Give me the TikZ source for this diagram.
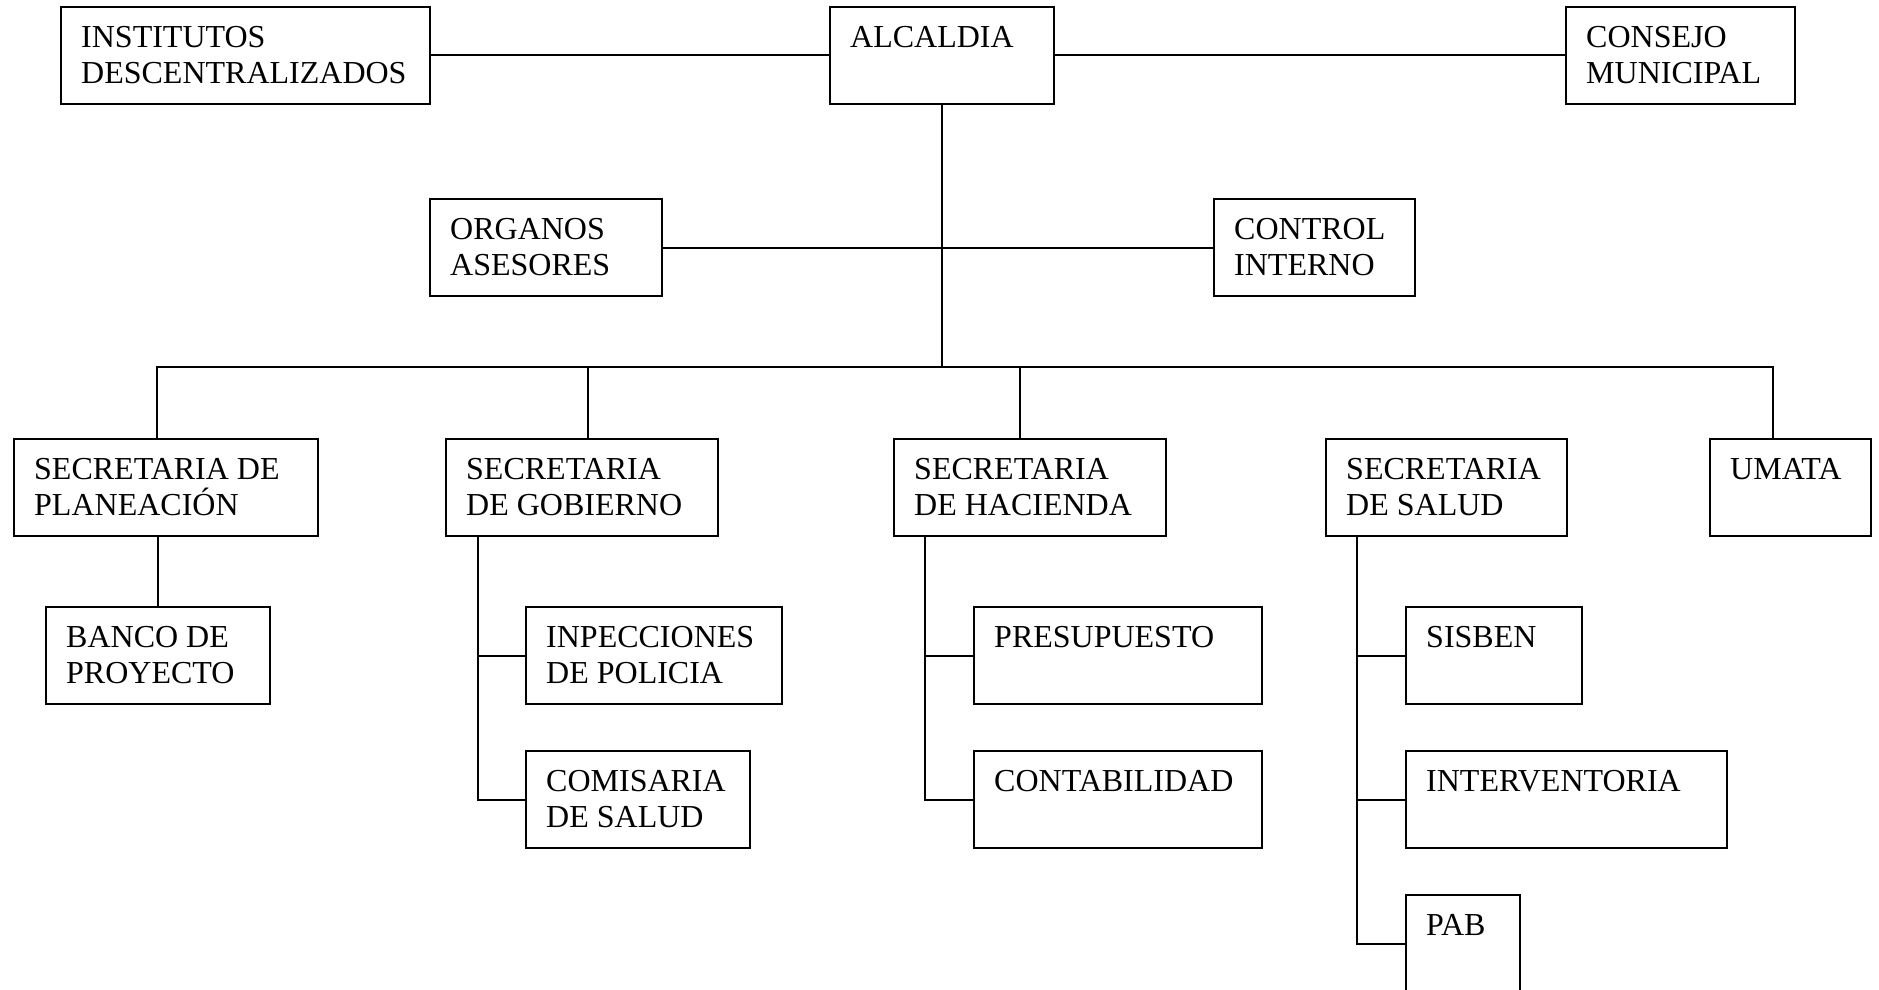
\documentclass[tikz,border=0pt]{standalone}
\usepackage{fontspec}
\setmainfont{Liberation Serif}
\begin{document}
\begin{tikzpicture}[x=1pt,y=1pt,
  box/.style={draw=black, line width=2pt, rectangle, inner sep=0pt, fill=white},
  lbl/.style={anchor=north west, inner sep=0pt, align=left, font=\fontsize{32}{36}\selectfont},
  conn/.style={draw=black, line width=2pt}]
\useasboundingbox[fill=white] (0,0) rectangle (1879,-990);
\newcommand\orgbox[6]{%
  \node[box, minimum width={#4-#2}, minimum height={#5-#3}, anchor=north west] (#1) at (#2,-#3) {};
  \node[lbl] (#1-t) at ([xshift=21pt, yshift=-19.8pt]#1.north west) {#6};
}
\coordinate (bus) at (941,-367);
\coordinate (busL) at (157,-367);
\coordinate (busR) at (1773,-367);
\coordinate (gobT) at (478,-535);
\coordinate (hacT) at (925,-535);
\coordinate (salT) at (1357,-535);
% boxes
\orgbox{inst}{60}{6}{429}{103}{INSTITUTOS\\DESCENTRALIZADOS}
\orgbox{alc}{829}{6}{1053}{103}{ALCALDIA}
\orgbox{cons}{1565}{6}{1794}{103}{CONSEJO\\MUNICIPAL}
\orgbox{org}{429}{198}{661}{295}{ORGANOS\\ASESORES}
\orgbox{ctrl}{1213}{198}{1414}{295}{CONTROL\\INTERNO}
\orgbox{plan}{13}{438}{317}{535}{SECRETARIA DE\\PLANEACIÓN}
\orgbox{gob}{445}{438}{717}{535}{SECRETARIA\\DE GOBIERNO}
\orgbox{hac}{893}{438}{1165}{535}{SECRETARIA\\DE HACIENDA}
\orgbox{sal}{1325}{438}{1566}{535}{SECRETARIA\\DE SALUD}
\orgbox{umata}{1709}{438}{1870}{535}{UMATA}
\orgbox{banco}{45}{606}{269}{703}{BANCO DE\\PROYECTO}
\orgbox{insp}{525}{606}{781}{703}{INPECCIONES\\DE POLICIA}
\orgbox{comi}{525}{750}{749}{847}{COMISARIA\\DE SALUD}
\orgbox{pres}{973}{606}{1261}{703}{PRESUPUESTO}
\orgbox{cont}{973}{750}{1261}{847}{CONTABILIDAD}
\orgbox{sisb}{1405}{606}{1581}{703}{SISBEN}
\orgbox{interv}{1405}{750}{1726}{847}{INTERVENTORIA}
\orgbox{pab}{1405}{894}{1519}{992}{PAB}
% top level
\draw[conn] (inst.east) -- (alc.west);
\draw[conn] (alc.east) -- (cons.west);
\draw[conn] (alc.south) -- (alc.south |- bus);
\draw[conn] (org.east) -- (ctrl.west);
% bus
\draw[conn] (busL |- plan.north) -- (busL) -- (busR) -- (busR |- umata.north);
\draw[conn] (gob.north -| 588,0) -- (588,-367);
\draw[conn] (hac.north -| 1020,0) -- (1020,-367);
% planeacion
\draw[conn] (plan.south -| banco.north) -- (banco.north);
% gobierno
\draw[conn] (gobT) |- (comi.west);
\draw[conn] (gobT |- insp.west) -- (insp.west);
% hacienda
\draw[conn] (hacT) |- (cont.west);
\draw[conn] (hacT |- pres.west) -- (pres.west);
% salud
\draw[conn] (salT) |- (pab.west);
\draw[conn] (salT |- sisb.west) -- (sisb.west);
\draw[conn] (salT |- interv.west) -- (interv.west);
\end{tikzpicture}
\end{document}
